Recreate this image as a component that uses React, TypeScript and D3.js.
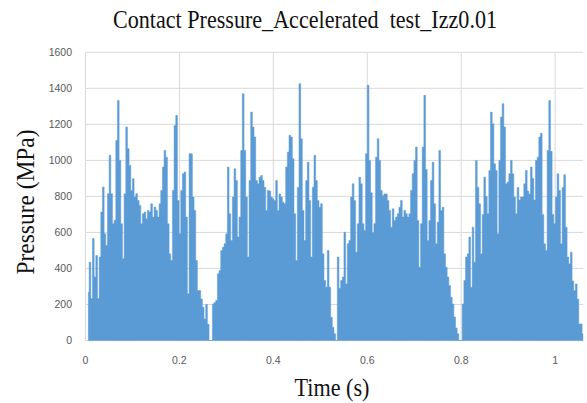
import * as d3 from "d3";

// pressure samples (MPa), one array per loading cycle
const sampleStep = 0.003546; // s between samples
const cycleStart = [0.006, 0.272, 0.5379, 0.8039]; // s

const cycle1 = [
  268, 435, 233, 566, 352, 472, 233, 463, 713, 852,
  593, 528, 815, 1028, 815, 648, 667, 1111, 1333, 1000,
  648, 454, 815, 1185, 1065, 972, 833, 898, 796, 815,
  777, 750, 648, 704, 713, 676, 722, 713, 759, 685,
  741, 722, 685, 759, 833, 963, 1055, 1018, 648, 481,
  444, 833, 1194, 1250, 777, 593, 833, 926, 935, 685,
  259, 1037, 1037, 796, 722, 444, 277, 277, 231, 185,
  120, 200, 90, 0, 0,
];
const cycle2 = [
  203, 211, 222, 370, 388, 500, 518, 537, 592, 963,
  704, 555, 796, 953, 888, 574, 685, 1055, 1370, 1055,
  796, 463, 888, 1268, 1185, 1130, 888, 870, 907, 916,
  888, 851, 722, 833, 830, 796, 787, 777, 888, 722,
  814, 796, 768, 759, 963, 1046, 1139, 1130, 1009, 704,
  444, 850, 1426, 1120, 722, 555, 888, 990, 777, 463,
  851, 1028, 888, 777, 740, 759, 481, 333, 296, 500,
  296, 129, 74, 37, 0,
];
const cycle3 = [
  463, 290, 333, 352, 601, 314, 537, 555, 796, 870,
  777, 490, 648, 907, 870, 648, 611, 1037, 1417, 1000,
  820, 600, 650, 1018, 1120, 1000, 833, 805, 814, 814,
  777, 722, 629, 731, 666, 685, 704, 740, 777, 685,
  722, 704, 685, 704, 833, 926, 1000, 1074, 666, 407,
  648, 1074, 1361, 950, 555, 666, 888, 990, 759, 537,
  657, 1055, 722, 740, 481, 407, 352, 305, 240, 203,
  130, 70, 37, 0, 0,
];
const cycle4 = [
  203, 333, 463, 481, 574, 296, 629, 435, 1000, 851,
  759, 480, 700, 907, 800, 704, 944, 1268, 1204, 981,
  944, 592, 1000, 1241, 1315, 1185, 870, 880, 926, 1000,
  926, 796, 704, 850, 780, 796, 796, 870, 944, 830,
  814, 963, 900, 780, 1000, 1018, 1130, 1150, 700, 537,
  500, 1055, 1333, 1050, 700, 648, 796, 926, 833, 537,
  850, 920, 629, 463, 426, 490, 330, 277, 314, 230,
  92, 92, 37,
];

const yTicks = [0, 200, 400, 600, 800, 1000, 1200, 1400, 1600];
const xTicks = [0, 0.2, 0.4, 0.6, 0.8, 1];

const width = 587;
const height = 403;
const margin = { top: 52.3, right: 3.7, bottom: 62.5, left: 85.5 };

export default function App() {
  const cycles = [cycle1, cycle2, cycle3, cycle4];
  const data = cycles.flatMap((c, j) =>
    c.map((p, i) => ({ t: cycleStart[j] + i * sampleStep, p }))
  );

  const x = d3.scaleLinear().domain([0, 1.06]).range([margin.left, width - margin.right]);
  const y = d3.scaleLinear().domain([0, 1600]).range([height - margin.bottom, margin.top]);

  const area = d3
    .area<{ t: number; p: number }>()
    .curve(d3.curveStep)
    .x((d) => x(d.t))
    .y0(y(0))
    .y1((d) => y(d.p));

  const grid = "#d9d9d9";
  const tickColor = "#595959";

  return (
    <svg
      width={width}
      height={height}
      style={{ position: "absolute", left: 0, top: 0, background: "#fff" }}
    >
      {/* gridlines */}
      {yTicks.map((v) => (
        <line key={"h" + v} x1={x(0)} x2={x(1.06)} y1={y(v)} y2={y(v)} stroke={grid} strokeWidth={1} />
      ))}
      {xTicks.map((v) => (
        <line key={"v" + v} x1={x(v)} x2={x(v)} y1={y(0)} y2={y(1600)} stroke={grid} strokeWidth={1} />
      ))}

      <path d={area(data) || ""} fill="#5b9bd5" stroke="#5b9bd5" strokeWidth={0.5} />

      {/* tick labels */}
      {yTicks.map((v) => (
        <text
          key={"yl" + v}
          x={72}
          y={y(v)}
          dy="0.35em"
          textAnchor="end"
          fontFamily="Liberation Sans, Arial, sans-serif"
          fontSize={10.5}
          fill={tickColor}
        >
          {v}
        </text>
      ))}
      {xTicks.map((v) => (
        <text
          key={"xl" + v}
          x={x(v)}
          y={364}
          textAnchor="middle"
          fontFamily="Liberation Sans, Arial, sans-serif"
          fontSize={10.5}
          fill={tickColor}
        >
          {String(v)}
        </text>
      ))}

      {/* titles */}
      <text
        x={305}
        y={28}
        textAnchor="middle"
        fontFamily="Liberation Serif, Times New Roman, serif"
        fontSize={25}
        textLength={384}
        lengthAdjust="spacingAndGlyphs"
        fill="#111"
        style={{ whiteSpace: "pre" }}
      >
        {"Contact Pressure_Accelerated  test_Izz0.01"}
      </text>
      <text
        x={332}
        y={396}
        textAnchor="middle"
        fontFamily="Liberation Serif, Times New Roman, serif"
        fontSize={25}
        textLength={75}
        lengthAdjust="spacingAndGlyphs"
        fill="#111"
      >
        Time (s)
      </text>
      <text
        transform="translate(34,202) rotate(-90)"
        textAnchor="middle"
        fontFamily="Liberation Serif, Times New Roman, serif"
        fontSize={25}
        textLength={145}
        lengthAdjust="spacingAndGlyphs"
        fill="#111"
      >
        Pressure (MPa)
      </text>
    </svg>
  );
}
